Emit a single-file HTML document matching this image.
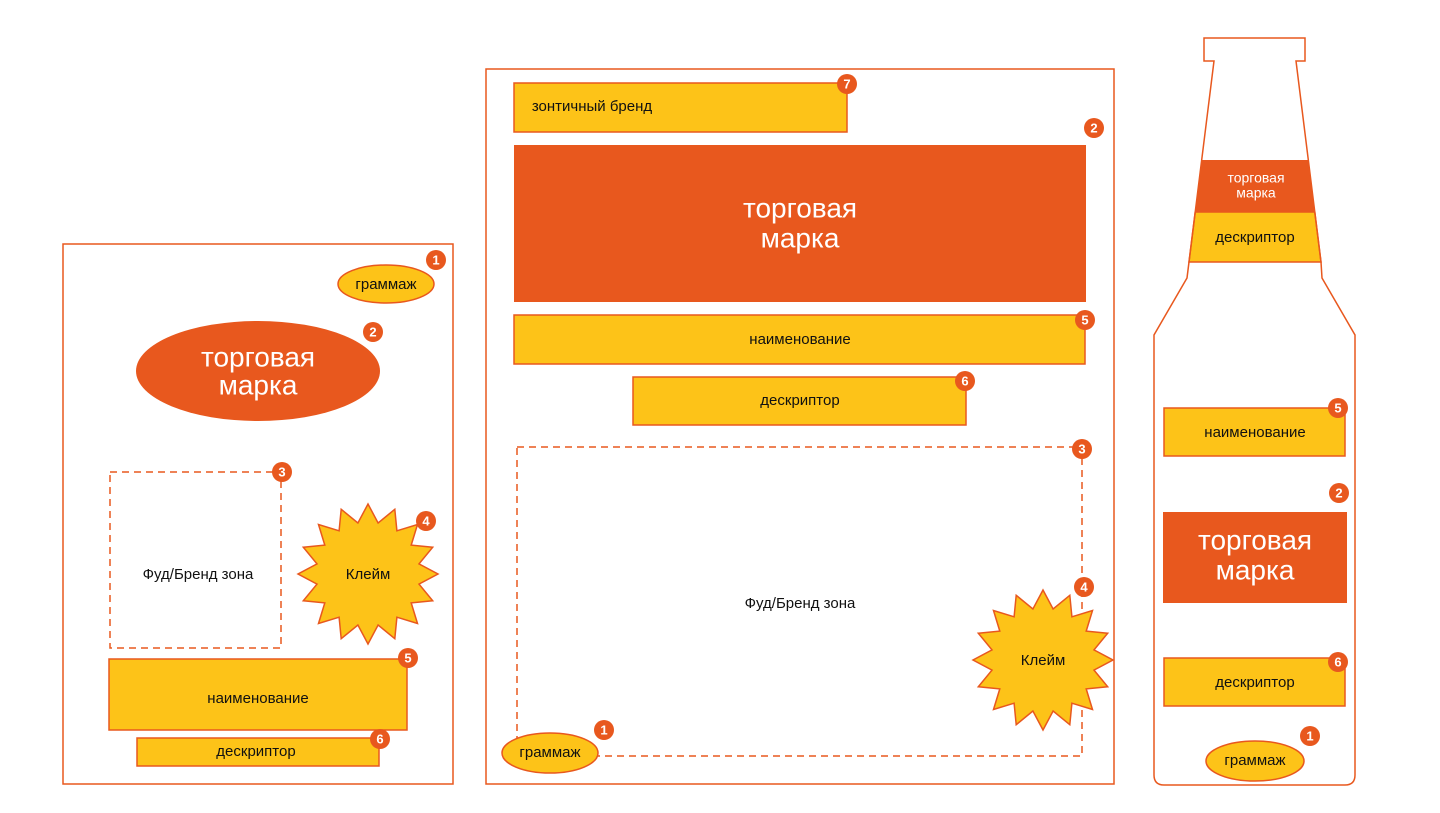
<!DOCTYPE html>
<html><head><meta charset="utf-8"><style>
html,body{margin:0;padding:0;background:#fff;}
svg{display:block;font-family:"Liberation Sans",sans-serif;}
</style></head><body>
<svg width="1440" height="813" viewBox="0 0 1440 813" xmlns="http://www.w3.org/2000/svg">
<defs><style>
.o{fill:none;stroke:#E8581E;stroke-width:1.5}
.y{fill:#FDC318;stroke:#E8581E;stroke-width:1.5}
.r{fill:#E8581E}
.t{font-size:15px;fill:#111;text-anchor:middle;dominant-baseline:middle}
.w{fill:#fff;text-anchor:middle;dominant-baseline:middle}
.b circle{fill:#E8581E}
.b text{fill:#fff;font-size:13px;font-weight:bold;text-anchor:middle;dominant-baseline:central}
.d{fill:none;stroke:#E8581E;stroke-width:1.5;stroke-dasharray:7 5}
</style></defs>

<!-- Panel 1 -->
<rect class="o" x="63" y="244" width="390" height="540"/>
<ellipse class="y" cx="386" cy="284" rx="48" ry="19"/>
<text class="t" x="386" y="285">граммаж</text>
<ellipse class="r" cx="258" cy="371" rx="122" ry="50"/>
<text class="w" x="258" y="359" font-size="28">торговая</text>
<text class="w" x="258" y="387" font-size="28">марка</text>
<rect class="d" x="110" y="472" width="171" height="176"/>
<text class="t" x="198" y="575">Фуд/Бренд зона</text>
<polygon id="s1" class="y" points=""/>
<text class="t" x="368" y="575">Клейм</text>
<rect class="y" x="109" y="659" width="298" height="71"/>
<text class="t" x="258" y="699">наименование</text>
<rect class="y" x="137" y="738" width="242" height="28"/>
<text class="t" x="256" y="752">дескриптор</text>

<!-- Panel 2 -->
<rect class="o" x="486" y="69" width="628" height="715"/>
<rect class="y" x="514" y="83" width="333" height="49"/>
<text class="t" x="592" y="107">зонтичный бренд</text>
<rect class="r" x="514" y="145" width="572" height="157"/>
<text class="w" x="800" y="210" font-size="28">торговая</text>
<text class="w" x="800" y="240" font-size="28">марка</text>
<rect class="y" x="514" y="315" width="571" height="49"/>
<text class="t" x="800" y="340">наименование</text>
<rect class="y" x="633" y="377" width="333" height="48"/>
<text class="t" x="800" y="401">дескриптор</text>
<rect class="d" x="517" y="447" width="565" height="309"/>
<text class="t" x="800" y="604">Фуд/Бренд зона</text>
<polygon id="s2" class="y" points=""/>
<text class="t" x="1043" y="661">Клейм</text>
<ellipse class="y" cx="550" cy="753" rx="48" ry="20"/>
<text class="t" x="550" y="753">граммаж</text>

<!-- Bottle -->
<polygon class="r" points="1201.7,160 1308.3,160 1314.8,212 1195.2,212"/>
<polygon class="y" points="1195.2,212 1314.8,212 1321,262 1189,262"/>
<path class="o" d="M1204,38 L1305,38 L1305,61 L1296,61 L1321,262 L1322,278 L1355,335 L1355,775 Q1355,785 1345,785 L1164,785 Q1154,785 1154,775 L1154,335 L1187,278 L1189,262 L1214,61 L1204,61 Z"/>
<text class="w" x="1256" y="179" font-size="14">торговая</text>
<text class="w" x="1256" y="194" font-size="14">марка</text>
<text class="t" x="1255" y="238">дескриптор</text>
<rect class="y" x="1164" y="408" width="181" height="48"/>
<text class="t" x="1255" y="433">наименование</text>
<rect class="r" x="1163" y="512" width="184" height="91"/>
<text class="w" x="1255" y="542" font-size="28">торговая</text>
<text class="w" x="1255" y="572" font-size="28">марка</text>
<rect class="y" x="1164" y="658" width="181" height="48"/>
<text class="t" x="1255" y="683">дескриптор</text>
<ellipse class="y" cx="1255" cy="761" rx="49" ry="20"/>
<text class="t" x="1255" y="761">граммаж</text>

<!-- badges -->
<g class="b">
<circle cx="436" cy="260" r="10"/><text x="436" y="260">1</text>
<circle cx="373" cy="332" r="10"/><text x="373" y="332">2</text>
<circle cx="282" cy="472" r="10"/><text x="282" y="472">3</text>
<circle cx="426" cy="521" r="10"/><text x="426" y="521">4</text>
<circle cx="408" cy="658" r="10"/><text x="408" y="658">5</text>
<circle cx="380" cy="739" r="10"/><text x="380" y="739">6</text>
<circle cx="847" cy="84" r="10"/><text x="847" y="84">7</text>
<circle cx="1094" cy="128" r="10"/><text x="1094" y="128">2</text>
<circle cx="1085" cy="320" r="10"/><text x="1085" y="320">5</text>
<circle cx="965" cy="381" r="10"/><text x="965" y="381">6</text>
<circle cx="1082" cy="449" r="10"/><text x="1082" y="449">3</text>
<circle cx="1084" cy="587" r="10"/><text x="1084" y="587">4</text>
<circle cx="604" cy="730" r="10"/><text x="604" y="730">1</text>
<circle cx="1338" cy="408" r="10"/><text x="1338" y="408">5</text>
<circle cx="1339" cy="493" r="10"/><text x="1339" y="493">2</text>
<circle cx="1338" cy="662" r="10"/><text x="1338" y="662">6</text>
<circle cx="1310" cy="736" r="10"/><text x="1310" y="736">1</text>
</g>
</svg>
<script>
function star(id,cx,cy,R,r,n){var p=[];for(var i=0;i<2*n;i++){var a=-Math.PI/2+i*Math.PI/n;var rad=i%2?r:R;p.push((cx+rad*Math.cos(a)).toFixed(1)+","+(cy+rad*Math.sin(a)).toFixed(1));}document.getElementById(id).setAttribute("points",p.join(" "));}
star("s1",368,574,70,52,16);
star("s2",1043,660,70,52,16);
</script>
</body></html>
